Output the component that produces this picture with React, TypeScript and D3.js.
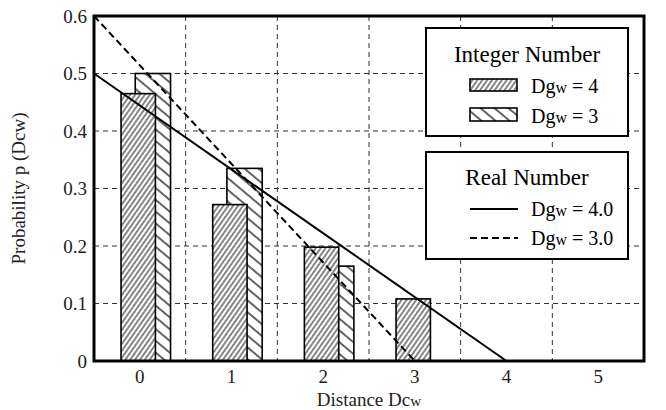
import React from "react";
import * as d3 from "d3";

// distance categories on the x axis
const distances = [0, 1, 2, 3];
// integer number probabilities
const intDgw4 = [0.465, 0.272, 0.198, 0.108];
const intDgw3 = [0.5, 0.335, 0.165, 0];
// real number lines (distance, probability)
const realDgw4: [number, number][] = [[-0.5, 0.5], [4, 0]];
const realDgw3: [number, number][] = [[-0.5, 0.6], [3, 0]];
const xTicks = [0, 1, 2, 3, 4, 5];
const yTicks = [0, 0.1, 0.2, 0.3, 0.4, 0.5, 0.6];
const xGrid = [0.5, 1.5, 2.5, 3.5, 4.5];
const yGrid = [0.1, 0.2, 0.3, 0.4, 0.5];

const W = 666, H = 410;
const left = 94, right = 644, top = 16, bottom = 361;
const font = "'Liberation Serif', 'Times New Roman', serif";

const x = d3.scaleLinear().domain([-0.5, 5.5]).range([left, right]);
const y = d3.scaleLinear().domain([0, 0.6]).range([bottom, top]);
const line = d3.line<[number, number]>().x(d => x(d[0])).y(d => y(d[1]));

// "Dgw" with smaller w
const Dsub = ({ a, b }: { a: string; b: string }) => (
  <>
    {a}
    <tspan fontSize="0.8em">{b}</tspan>
  </>
);

export default function App() {
  return (
    <svg width={W} height={H} style={{ display: "block", position: "absolute", left: 0, top: 0 }} fontFamily={font}>
      <defs>
        <pattern id="h4" width="4" height="10" patternUnits="userSpaceOnUse" patternTransform="rotate(35)">
          <rect width="4" height="10" fill="white" />
          <line x1="1" y1="0" x2="1" y2="10" stroke="#222" strokeWidth="1.1" />
        </pattern>
        <pattern id="h3" width="9" height="10" patternUnits="userSpaceOnUse" patternTransform="rotate(-50)">
          <rect width="9" height="10" fill="white" />
          <line x1="1" y1="0" x2="1" y2="10" stroke="#111" strokeWidth="1.3" />
        </pattern>
      </defs>
      <rect width={W} height={H} fill="white" />

      {/* grid */}
      <g stroke="#333" strokeWidth={1} strokeDasharray="5,4">
        {xGrid.map(v => (
          <line key={"gx" + v} x1={x(v)} x2={x(v)} y1={top} y2={bottom} />
        ))}
        {yGrid.map(v => (
          <line key={"gy" + v} x1={left} x2={right} y1={y(v)} y2={y(v)} />
        ))}
      </g>

      {/* bars: Dgw=3 behind, Dgw=4 in front */}
      <g stroke="#000" strokeWidth={1.6}>
        {distances.map((d, i) =>
          intDgw3[i] > 0 ? (
            <rect key={"b3" + i} x={x(d - 0.05)} width={x(d + 0.335) - x(d - 0.05)} y={y(intDgw3[i])}
              height={y(0) - y(intDgw3[i])} fill="url(#h3)" />
          ) : null
        )}
        {distances.map((d, i) => (
          <rect key={"b4" + i} x={x(d - 0.205)} width={x(d + 0.17) - x(d - 0.205)} y={y(intDgw4[i])}
            height={y(0) - y(intDgw4[i])} fill="url(#h4)" />
        ))}
      </g>

      {/* real number lines */}
      <path d={line(realDgw4) || ""} fill="none" stroke="#000" strokeWidth={2} />
      <path d={line(realDgw3) || ""} fill="none" stroke="#000" strokeWidth={2} strokeDasharray="7,4" />

      {/* legend 1 */}
      <g>
        <rect x={426} y={28} width={202} height={108} fill="white" stroke="#000" strokeWidth={2} />
        <text x={527} y={62} fontSize={23} textAnchor="middle">Integer Number</text>
        <rect x={470} y={79} width={47} height={12} fill="url(#h4)" stroke="#000" strokeWidth={1.6} />
        <text x={531} y={93} fontSize={20}><Dsub a="Dg" b="w" /> = 4</text>
        <rect x={470} y={108} width={47} height={13} fill="url(#h3)" stroke="#000" strokeWidth={1.6} />
        <text x={531} y={123} fontSize={20}><Dsub a="Dg" b="w" /> = 3</text>
      </g>
      {/* legend 2 */}
      <g>
        <rect x={426} y={152} width={202} height={107} fill="white" stroke="#000" strokeWidth={2} />
        <text x={527} y={185} fontSize={23} textAnchor="middle">Real Number</text>
        <line x1={470} x2={518} y1={209} y2={209} stroke="#000" strokeWidth={2} />
        <text x={531} y={216} fontSize={20}><Dsub a="Dg" b="w" /> = 4.0</text>
        <line x1={470} x2={518} y1={238} y2={238} stroke="#000" strokeWidth={2} strokeDasharray="7,4" />
        <text x={531} y={245} fontSize={20}><Dsub a="Dg" b="w" /> = 3.0</text>
      </g>

      {/* frame */}
      <rect x={left} y={top} width={right - left} height={bottom - top} fill="none" stroke="#000" strokeWidth={3} />

      {/* tick labels */}
      <g fontSize={19} fill="#222">
        {xTicks.map(v => (
          <text key={"tx" + v} x={x(v)} y={383} textAnchor="middle">{v}</text>
        ))}
        {yTicks.map(v => (
          <text key={"ty" + v} x={87} y={y(v)} dy="0.35em" textAnchor="end">{v === 0 ? "0" : v.toFixed(1)}</text>
        ))}
      </g>

      {/* axis titles */}
      <text x={(left + right) / 2} y={406} fontSize={19} textAnchor="middle" fill="#222">
        Distance <Dsub a="Dc" b="w" />
      </text>
      <text transform={`translate(25,${(top + bottom) / 2}) rotate(-90)`} fontSize={19} textAnchor="middle" fill="#222">
        Probability p (Dcw)
      </text>
    </svg>
  );
}
